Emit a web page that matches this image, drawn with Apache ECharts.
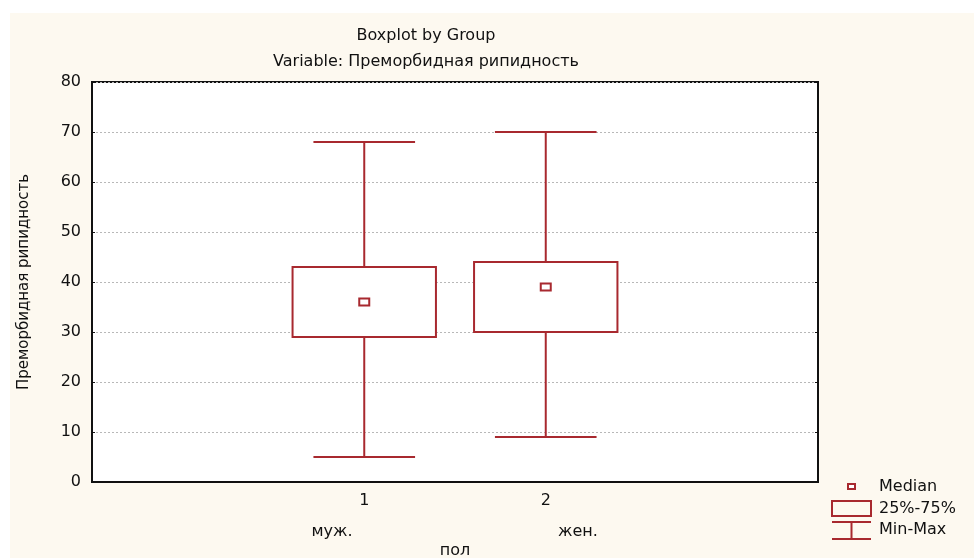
<!DOCTYPE html>
<html>
<head>
<meta charset="utf-8">
<script src="https://cdn.jsdelivr.net/npm/echarts@6/dist/echarts.min.js"></script>
<style>
html,body{margin:0;padding:0;background:#fff;}
#main{width:974px;height:558px;}
</style>
</head>
<body>
<div id="main"></div>
<script>
// категории оси X (крайние пустые - как в Statistica)
var xCats = ['', '1', '2', ''];
var groupNames = ['муж.', 'жен.'];
// min, q1, median, q3, max по группам
var minVals = [5, 9];
var q1Vals = [29, 30];
var medVals = [36, 39];
var q3Vals = [43, 44];
var maxVals = [68, 70];
var yTicks = [0, 10, 20, 30, 40, 50, 60, 70, 80];

var RED = '#a8292f';
var FONT = 'DejaVu Sans';
var GFONT = '16px "DejaVu Sans"';

var boxData = [];
for (var i = 0; i < minVals.length; i++) {
    boxData.push([i + 1, minVals[i], q1Vals[i], medVals[i], q3Vals[i], maxVals[i]]);
}

function renderBox(params, api) {
    var x = api.value(0);
    var band = api.size([1, 0])[0];
    var boxW = band * 0.79;
    var capW = band * 0.56;
    var pMin = api.coord([x, api.value(1)]);
    var pQ1 = api.coord([x, api.value(2)]);
    var pMed = api.coord([x, api.value(3)]);
    var pQ3 = api.coord([x, api.value(4)]);
    var pMax = api.coord([x, api.value(5)]);
    var st = {stroke: RED, lineWidth: 2, fill: null};
    return {
        type: 'group',
        children: [
            {type: 'line', shape: {x1: pMax[0], y1: pMax[1], x2: pQ3[0], y2: pQ3[1]}, style: st},
            {type: 'line', shape: {x1: pQ1[0], y1: pQ1[1], x2: pMin[0], y2: pMin[1]}, style: st},
            {type: 'line', shape: {x1: pMax[0] - capW / 2, y1: pMax[1], x2: pMax[0] + capW / 2, y2: pMax[1]}, style: st},
            {type: 'line', shape: {x1: pMin[0] - capW / 2, y1: pMin[1], x2: pMin[0] + capW / 2, y2: pMin[1]}, style: st},
            {type: 'rect', shape: {x: pQ3[0] - boxW / 2, y: pQ3[1], width: boxW, height: pQ1[1] - pQ3[1]}, style: {stroke: RED, lineWidth: 2, fill: '#fff'}},
            {type: 'rect', shape: {x: pMed[0] - 5, y: pMed[1] - 3.5, width: 10, height: 7}, style: {stroke: RED, lineWidth: 2, fill: '#fff'}}
        ]
    };
}

var myChart = echarts.init(document.getElementById('main'), null, {renderer: 'canvas'});
var txt = {fontFamily: FONT, fontSize: 16, color: '#111'};

var option = {
    backgroundColor: '#fff',
    animation: false,
    title: [
        {text: 'Boxplot by Group', left: 421, top: 23, textAlign: 'center',
            textStyle: {fontFamily: FONT, fontSize: 16, fontWeight: 'normal', color: '#111'}},
        {text: 'Variable: Преморбидная рипидность', left: 421, top: 49, textAlign: 'center',
            textStyle: {fontFamily: FONT, fontSize: 16, fontWeight: 'normal', color: '#111'}}
    ],
    graphic: [
        {type: 'rect', z: -10, shape: {x: 10, y: 13, width: 964, height: 545}, style: {fill: '#fdf9f0'}},
        // подписи групп
        {type: 'text', x: 332, y: 532, style: {text: groupNames[0], align: 'center', verticalAlign: 'middle', font: GFONT, fill: '#111'}},
        {type: 'text', x: 578, y: 532, style: {text: groupNames[1], align: 'center', verticalAlign: 'middle', font: GFONT, fill: '#111'}},
        {type: 'text', x: 455, y: 551, style: {text: 'пол', align: 'center', verticalAlign: 'middle', font: GFONT, fill: '#111'}},
        // легенда
        {type: 'rect', shape: {x: 848, y: 484, width: 7, height: 5}, style: {stroke: RED, lineWidth: 2, fill: '#fff'}},
        {type: 'text', x: 879, y: 487, style: {text: 'Median', verticalAlign: 'middle', font: GFONT, fill: '#111'}},
        {type: 'rect', shape: {x: 832, y: 501, width: 39, height: 15}, style: {stroke: RED, lineWidth: 2, fill: null}},
        {type: 'text', x: 879, y: 509, style: {text: '25%-75%', verticalAlign: 'middle', font: GFONT, fill: '#111'}},
        {type: 'line', shape: {x1: 832, y1: 522, x2: 871, y2: 522}, style: {stroke: RED, lineWidth: 2}},
        {type: 'line', shape: {x1: 851.5, y1: 522, x2: 851.5, y2: 539}, style: {stroke: RED, lineWidth: 2}},
        {type: 'line', shape: {x1: 832, y1: 539, x2: 871, y2: 539}, style: {stroke: RED, lineWidth: 2}},
        {type: 'text', x: 879, y: 530, style: {text: 'Min-Max', verticalAlign: 'middle', font: GFONT, fill: '#111'}}
    ],
    grid: {left: 92, right: 156, top: 82, bottom: 76, show: true, backgroundColor: '#fff', borderColor: '#111', borderWidth: 2},
    xAxis: [
        {type: 'category', data: xCats, position: 'bottom', boundaryGap: true,
            axisLine: {lineStyle: {color: '#111', width: 2}},
            axisTick: {alignWithLabel: true, inside: true, length: 5, lineStyle: {color: '#111'}},
            axisLabel: Object.assign({margin: 11}, txt),
            splitLine: {show: false}},
        {type: 'category', data: xCats, position: 'top', boundaryGap: true,
            axisLine: {lineStyle: {color: '#111', width: 2}},
            axisTick: {alignWithLabel: true, inside: true, length: 5, lineStyle: {color: '#111'}},
            axisLabel: {show: false}, splitLine: {show: false}}
    ],
    yAxis: [
        {type: 'value', min: yTicks[0], max: yTicks[yTicks.length - 1], interval: 10, position: 'left',
            name: 'Преморбидная рипидность', nameLocation: 'middle', nameGap: 60, nameRotate: 90,
            nameTextStyle: {fontFamily: FONT, fontSize: 15, color: '#111'},
            axisLine: {show: true, lineStyle: {color: '#111', width: 2}},
            axisTick: {show: true, inside: true, length: 3, lineStyle: {color: '#111'}},
            axisLabel: Object.assign({margin: 11}, txt),
            splitLine: {show: true, lineStyle: {color: '#b8b8b8', type: [2, 2], width: 1}}},
        {type: 'value', min: yTicks[0], max: yTicks[yTicks.length - 1], interval: 10, position: 'right',
            axisLine: {show: true, lineStyle: {color: '#111', width: 2}},
            axisTick: {show: true, inside: true, length: 3, lineStyle: {color: '#111'}},
            axisLabel: {show: false}, splitLine: {show: false}}
    ],
    series: [
        {type: 'custom', renderItem: renderBox, data: boxData, xAxisIndex: 0, yAxisIndex: 0,
            encode: {x: 0, y: [1, 2, 3, 4, 5]}, z: 5}
    ]
};
myChart.setOption(option);
</script>
</body>
</html>
